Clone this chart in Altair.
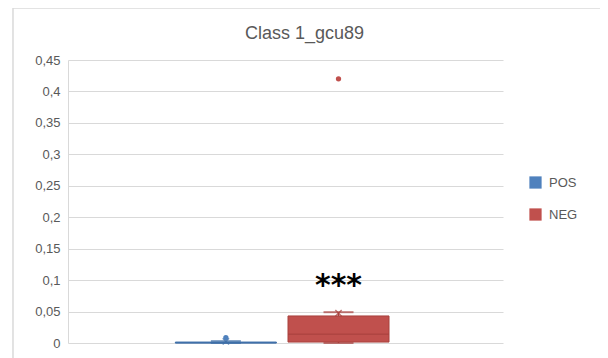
import altair as alt
import pandas as pd

# ---- data ----
series = ["POS", "NEG"]
q1 = [0.0, 0.0015]
median = [0.0005, 0.014]
q3 = [0.0015, 0.043]
whisker_low = [0.0, 0.0]
whisker_high = [0.003, 0.049]
mean = [0.0025, 0.0475]
outlier_series = ["POS", "NEG"]
outlier_values = [0.0085, 0.42]
y_ticks = [0, 0.05, 0.1, 0.15, 0.2, 0.25, 0.3, 0.35, 0.4, 0.45]
sig_series = ["NEG"]
sig_label = ["***"]
sig_y = [0.09]

colors = ["#4F81BD", "#C0504D"]
borders = ["#3F6FA8", "#A8403D"]

box = pd.DataFrame({"series": series, "q1": q1, "median": median, "q3": q3,
                    "wlo": whisker_low, "whi": whisker_high, "mean": mean})
outl = pd.DataFrame({"series": outlier_series, "value": outlier_values})
sig = pd.DataFrame({"series": sig_series, "label": sig_label, "y": sig_y})

FONT = "Liberation Sans"
GRAY = "#595959"

xscale = alt.Scale(domain=series, paddingInner=0.098, paddingOuter=0.98, align=0.485)
yscale = alt.Scale(domain=[0, 0.45], nice=False, zero=True)
X = alt.X("series:N", scale=xscale, axis=None)
yaxis = alt.Axis(values=y_ticks, title=None, ticks=False, grid=True,
                 gridColor="#D9D9D9", domain=True, domainColor="#D9D9D9",
                 labelOverlap=False,
                 labelExpr="replace(toString(round(datum.value*100)/100), '.', ',')",
                 labelFont=FONT, labelFontSize=13, labelColor=GRAY, labelPadding=8)


def Y(field):
    return alt.Y(field, scale=yscale, axis=yaxis)


is_pos = alt.datum.series == "POS"
dark = alt.condition(is_pos, alt.value(borders[0]), alt.value(borders[1]))
light = alt.condition(is_pos, alt.value(colors[0]), alt.value(colors[1]))

base = alt.Chart(box)

whisk = base.mark_rule(strokeWidth=1.5).encode(
    x=X, y=Y("wlo:Q"), y2="whi:Q", color=dark)

bars = base.mark_bar(size=101).encode(
    x=X, y=Y("q1:Q"), y2="q3:Q",
    fill=alt.Fill("series:N", scale=alt.Scale(domain=series, range=colors), title=None,
                  legend=alt.Legend(orient="none", legendX=461, legendY=116,
                                    symbolType="square", symbolSize=150,
                                    symbolStrokeWidth=0, padding=0,
                                    labelFont=FONT, labelFontSize=13,
                                    labelColor=GRAY, rowPadding=18,
                                    labelOffset=7)))
bar_edge = base.mark_bar(size=101, fill=None, strokeWidth=1).encode(
    x=X, y=Y("q1:Q"), y2="q3:Q", stroke=dark)

caps_hi = base.mark_tick(size=30, thickness=2).encode(
    x=X, y=Y("whi:Q"), color=dark)
caps_lo = base.mark_tick(size=30, thickness=2).encode(
    x=X, y=Y("wlo:Q"), color=dark)
med = base.mark_tick(size=101, thickness=1.5).encode(
    x=X, y=Y("median:Q"), color=dark)
means = base.mark_point(shape="M-1,-1L1,1M1,-1L-1,1", filled=False,
                        size=40, strokeWidth=1.5).encode(
    x=X, y=Y("mean:Q"), color=dark)

outs = alt.Chart(outl).mark_circle(size=28, opacity=1).encode(
    x=X, y=Y("value:Q"), color=light)

stars = alt.Chart(sig).mark_text(font="DejaVu Sans", fontSize=30, fontWeight="bold",
                                 color="black", baseline="middle",
                                 align="center").encode(
    x=X, y=Y("y:Q"), text="label:N")

border = alt.Chart(box).mark_rect(fill=None, stroke="#D9D9D9", strokeWidth=1).encode(
    x=alt.value(-55), x2=alt.value(533), y=alt.value(-52), y2=alt.value(400))

chart = alt.layer(border, whisk, bars, bar_edge, caps_hi, caps_lo, med, means, outs, stars).properties(
    width=435, height=283,
    background="white",
    title=alt.TitleParams("Class 1_gcu89", font=FONT, fontSize=18, fontWeight="normal",
                          color=GRAY, anchor="middle", dx=19, dy=53, offset=18),
    autosize=alt.AutoSizeParams(type="none"),
    padding={"left": 60, "top": 52, "right": 97, "bottom": 15},
).configure_view(strokeWidth=0, strokeOpacity=0)

chart.save("out.html", embed_options={"renderer": "svg", "actions": False})
